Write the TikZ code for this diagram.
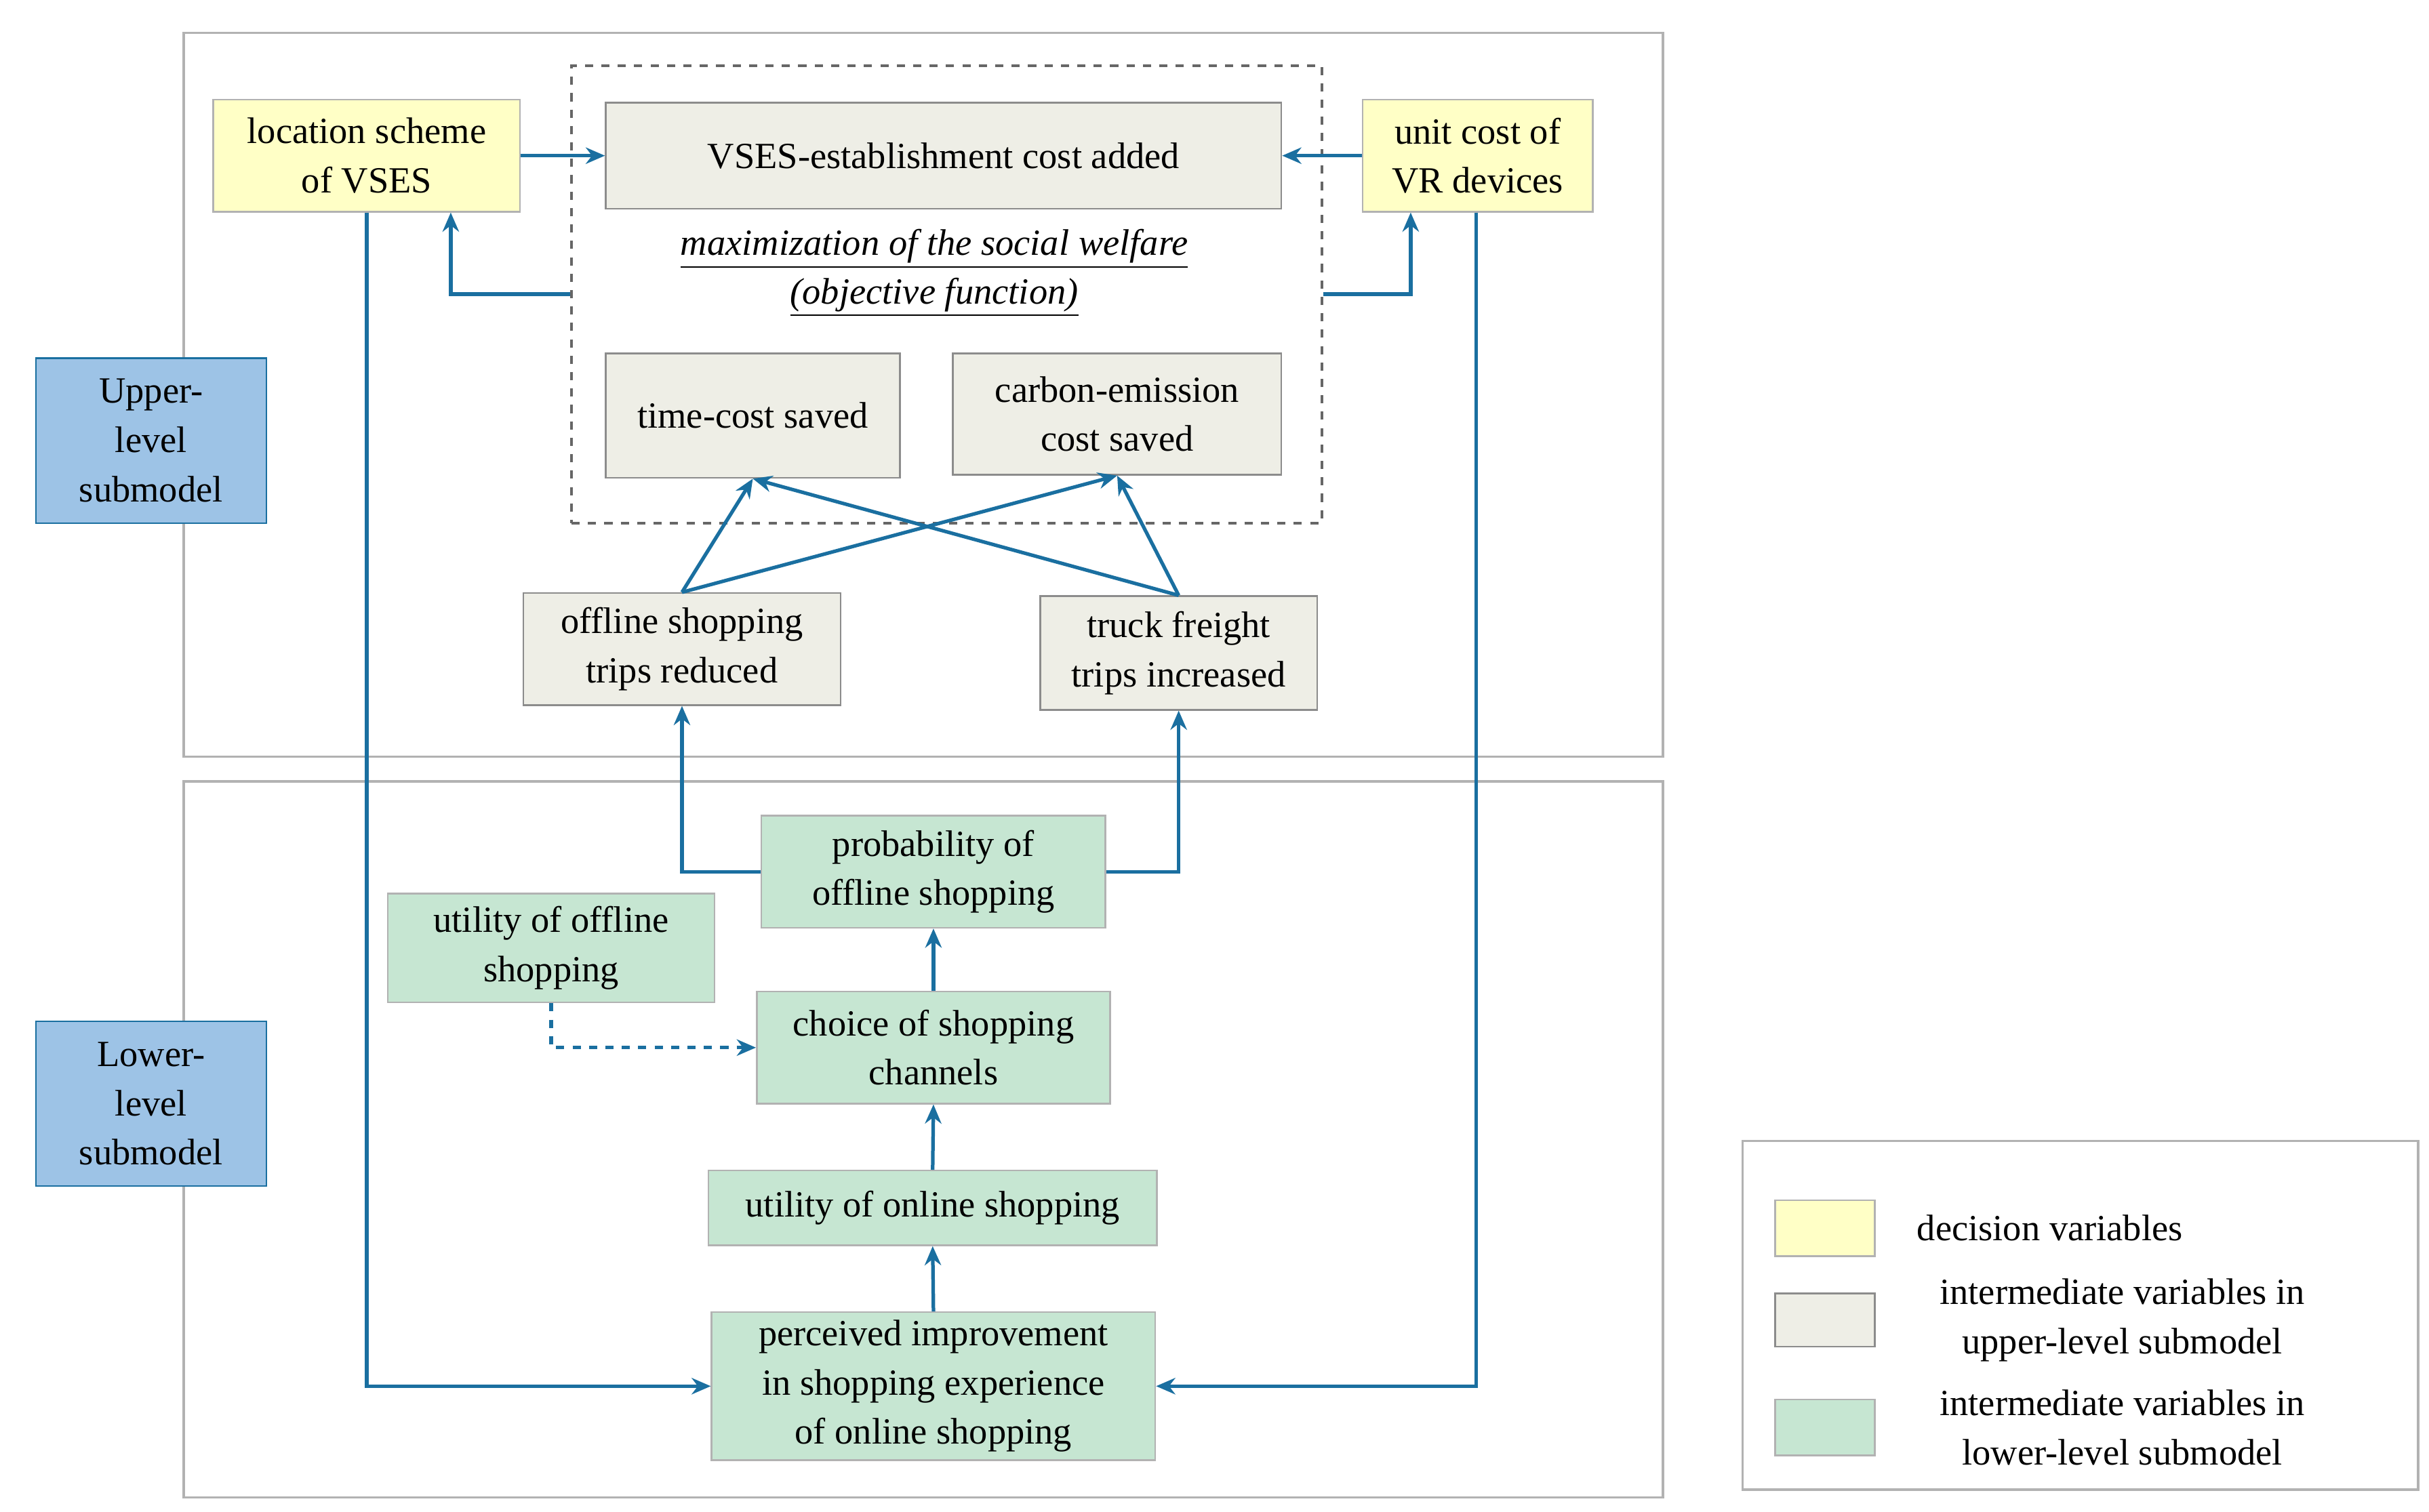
\documentclass[tikz,border=0pt]{standalone}
\usepackage{fontspec}
\setmainfont{Liberation Serif}
\usetikzlibrary{calc,arrows.meta}
\definecolor{yel}{HTML}{FFFFC6}
\definecolor{gry}{HTML}{EEEEE6}
\definecolor{grn}{HTML}{C6E6D2}
\definecolor{blu}{HTML}{9DC3E6}
\definecolor{arr}{HTML}{1A6FA0}
\begin{document}
\begin{tikzpicture}[x=0.02cm,y=-0.02cm,
  font=\fontsize{13.5}{18}\selectfont,
  box/.style={draw=black!45,line width=0.6pt,align=center,inner sep=0pt},
  yb/.style={box,fill=yel,draw=black!30},
  gb/.style={box,fill=gry},
  nb/.style={box,fill=grn,draw=black!30},
  bb/.style={box,fill=blu,draw=arr},
  frame/.style={draw=black!30,line width=0.8pt},
  ar/.style={draw=arr,line width=1.3pt,-{Stealth[length=7pt,width=6pt]}}]
\useasboundingbox (0,0) rectangle (1560,971);
\draw[frame] (118,21) rectangle (1068,486);
\draw[frame] (118,502) rectangle (1068,962);
\draw[frame] (1119,733) rectangle (1553,957);
\node[draw=black!60,dashed,line width=1pt,minimum width=9.64cm,minimum height=5.88cm] (obj) at (608,189) {};
\node[yb,minimum width=3.94cm,minimum height=1.44cm] (loc) at (235.5,100) {location scheme\\of VSES};
\node[yb,minimum width=2.96cm,minimum height=1.44cm] (unit) at (949,100) {unit cost of\\VR devices};
\node[gb,minimum width=8.68cm,minimum height=1.36cm] (vses) at (606,100) {VSES-establishment cost added};
\node (max1) at (600,160) {\underline{\textit{maximization of the social welfare}}};
\node (max2) at (600,191) {\underline{\textit{(objective function)}}};
\node[gb,minimum width=3.78cm,minimum height=1.6cm] (time) at (483.5,267) {time-cost saved};
\node[gb,minimum width=4.22cm,minimum height=1.56cm] (carb) at (717.5,266) {carbon-emission\\cost saved};
\node[gb,minimum width=4.08cm,minimum height=1.44cm] (offl) at (438,417) {offline shopping\\trips reduced};
\node[gb,minimum width=3.56cm,minimum height=1.46cm] (truck) at (757,419.5) {truck freight\\trips increased};
\node[bb,minimum width=2.96cm,minimum height=2.12cm] (upper) at (97,283) {Upper-\\level\\submodel};
\node[bb,minimum width=2.96cm,minimum height=2.12cm] (lower) at (97,709) {Lower-\\level\\submodel};
\node[nb,minimum width=4.42cm,minimum height=1.44cm] (prob) at (599.5,560) {probability of\\offline shopping};
\node[nb,minimum width=4.2cm,minimum height=1.4cm] (uoff) at (354,609) {utility of offline\\shopping};
\node[nb,minimum width=4.54cm,minimum height=1.44cm] (choice) at (599.5,673) {choice of shopping\\channels};
\node[nb,minimum width=5.76cm,minimum height=0.96cm] (uon) at (599,776) {utility of online shopping};
\node[nb,minimum width=5.7cm,minimum height=1.9cm] (perc) at (599.5,890.5) {perceived improvement\\in shopping experience\\of online shopping};
\node[yb,minimum width=1.28cm,minimum height=0.72cm] (ly) at (1172,789) {};
\node[gb,minimum width=1.28cm,minimum height=0.68cm] (lg) at (1172,848) {};
\node[nb,minimum width=1.28cm,minimum height=0.72cm] (ln) at (1172,917) {};
\node[anchor=west] (t1) at (1225,789) {decision variables};
\node[align=center] (t2) at (1363,848) {intermediate variables in\\upper-level submodel};
\node[align=center] (t3) at (1363,917) {intermediate variables in\\lower-level submodel};
\draw[ar] (loc.east) -- (vses.west);
\draw[ar] (unit.west) -- (vses.east);
\draw[ar] (obj.west) -| ($(loc.south)+(54,0)$);
\draw[ar] (obj.east) -| ($(unit.south)+(-43,0)$);
\draw[ar] (loc.south) |- (perc.west);
\draw[ar] ($(unit.south)+(-1,0)$) |- (perc.east);
\draw[ar] (offl.north) -- (time.south);
\draw[ar] (offl.north) -- (carb.south);
\draw[ar] (truck.north) -- (time.south);
\draw[ar] (truck.north) -- (carb.south);
\draw[ar] (prob.west) -| (offl.south);
\draw[ar] (prob.east) -| (truck.south);
\draw[ar] (choice.north) -- (prob.south);
\draw[ar] (uon.north) -- (choice.south);
\draw[ar] (perc.north) -- (uon.south);
\draw[ar,dashed] (uoff.south) |- (choice.west);
\end{tikzpicture}
\end{document}
